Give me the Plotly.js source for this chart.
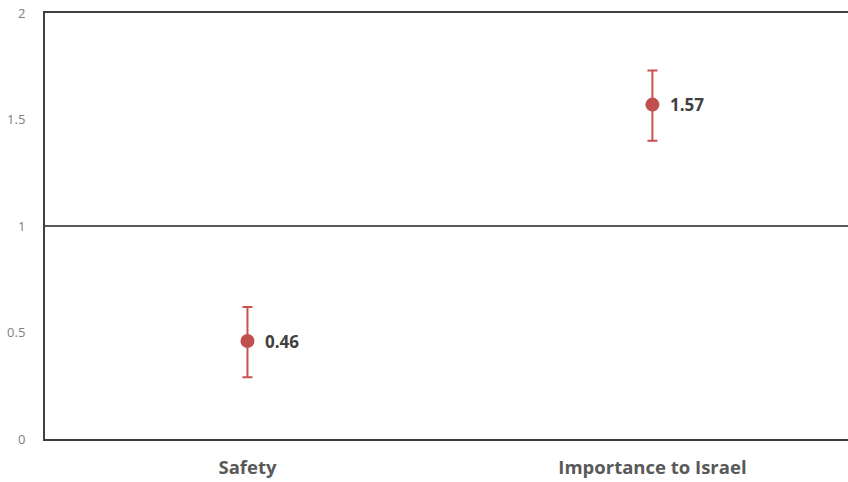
<!DOCTYPE html>
<html>
<head>
<meta charset="utf-8">
<script src="https://cdn.plot.ly/plotly-3.0.1.min.js"></script>
<style>html,body{margin:0;padding:0;background:#fff;}#chart{width:848px;height:482px;}</style>
</head>
<body>
<div id="chart"></div>
<script>
const categories = ["Safety", "Importance to Israel"];
const values = [0.46, 1.57];
const errPlus = [0.16, 0.16];
const errMinus = [0.17, 0.17];
const labels = ["0.46", "1.57"];
const yTicks = [0, 0.5, 1, 1.5, 2];
const yTickText = ["0", "0.5", "1", "1.5", "2"];

const trace = {
  x: categories,
  y: values,
  type: "scatter",
  mode: "markers",
  marker: {color: "#c0504d", size: 14},
  error_y: {type: "data", symmetric: false, array: errPlus, arrayminus: errMinus, color: "#c9524f", thickness: 2, width: 5},
  cliponaxis: false,
  hoverinfo: "skip"
};

const annotations = categories.map((c, i) => ({
  x: c, y: values[i], xref: "x", yref: "y",
  text: labels[i], showarrow: false,
  xanchor: "left", yanchor: "middle", xshift: 16,
  font: {family: "Open Sans, Liberation Sans, sans-serif", size: 17, color: "#404040", weight: "bold"}
}));

const layout = {
  width: 848, height: 482,
  margin: {l: 45, r: 0, t: 13, b: 43},
  paper_bgcolor: "#fff", plot_bgcolor: "#fff",
  showlegend: false,
  xaxis: {
    type: "category",
    range: [-0.5, 1.483],
    showgrid: false, zeroline: false,
    showline: true, mirror: true, linecolor: "#404040", linewidth: 2,
    ticks: "outside", ticklen: 11, tickcolor: "rgba(0,0,0,0)",
    tickfont: {family: "Open Sans, Liberation Sans, sans-serif", size: 18.5, color: "#595959", weight: "bold"},
    fixedrange: true
  },
  yaxis: {
    range: [0, 2],
    tickvals: yTicks, ticktext: yTickText,
    showgrid: false, zeroline: false,
    showline: true, linecolor: "#404040", linewidth: 2,
    ticks: "outside", ticklen: 15, tickcolor: "rgba(0,0,0,0)",
    tickfont: {family: "Open Sans, Liberation Sans, sans-serif", size: 13, color: "#808080"},
    fixedrange: true
  },
  annotations: annotations,
  shapes: [{type: "line", xref: "paper", x0: 0, x1: 1, yref: "y", y0: 1, y1: 1, line: {color: "#222", width: 1.5}}]
};

Plotly.newPlot("chart", [trace], layout, {displayModeBar: false, staticPlot: true});
</script>
</body>
</html>
